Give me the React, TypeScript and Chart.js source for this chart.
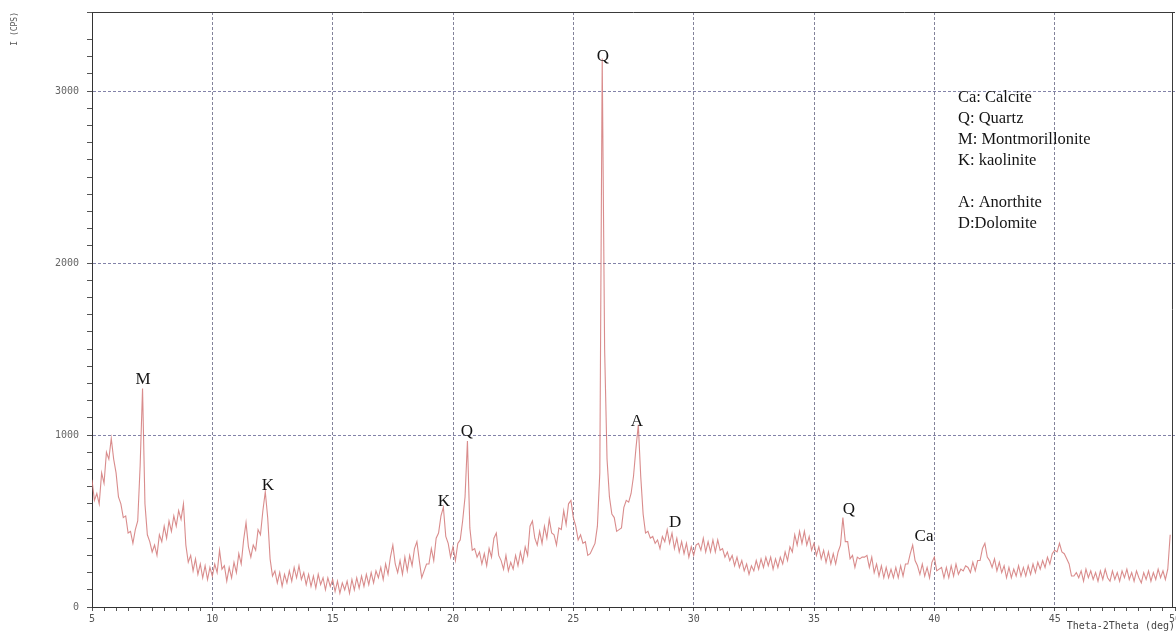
import React, { useEffect, useRef } from 'react';
import { Chart, registerables } from 'chart.js';

Chart.register(...registerables);

// Scan settings (2theta, degrees)
const SCAN_START = 5;
const SCAN_STEP = 0.1;

// Intensity (CPS), one value per 0.1 deg
const I_05_10 = [
  740, 620, 660, 600, 780, 720, 900, 860, 980, 860,
  780, 640, 600, 520, 530, 430, 440, 370, 450, 500,
  820, 1270, 600, 420, 380, 320, 360, 300, 420, 380,
  470, 400, 500, 440, 530, 470, 560, 510, 600, 360,
  260, 300, 210, 280, 190, 250, 170, 240, 160, 230,
];
const I_10_15 = [
  180, 250, 200, 330, 220, 240, 150, 230, 170, 260,
  200, 310, 250, 390, 490, 350, 290, 360, 330, 450,
  420, 560, 670, 520, 280, 180, 210, 140, 200, 120,
  190, 140, 210, 150, 230, 170, 240, 160, 200, 130,
  190, 120, 180, 110, 190, 130, 170, 100, 170, 120,
];
const I_15_20 = [
  160, 90, 150, 80, 140, 100, 150, 80, 160, 100,
  170, 110, 180, 120, 190, 130, 200, 140, 210, 170,
  230, 160, 250, 190, 290, 360, 250, 200, 270, 190,
  290, 210, 300, 240, 340, 380, 270, 170, 210, 250,
  250, 340, 270, 400, 430, 530, 580, 410, 370, 290,
];
const I_20_25 = [
  350, 270, 370, 390, 500, 640, 965, 460, 330, 340,
  290, 320, 250, 310, 240, 340, 290, 400, 430, 300,
  270, 220, 300, 210, 260, 220, 300, 240, 320, 260,
  350, 300, 470, 500, 400, 360, 440, 370, 470, 400,
  510, 430, 420, 360, 460, 450, 560, 480, 600, 620,
];
const I_25_30 = [
  520, 470, 390, 420, 370, 380, 300, 310, 340, 370,
  470, 780, 3190, 1500, 860, 640, 540, 520, 440, 450,
  460, 580, 620, 610, 660, 760, 920, 1060, 760, 540,
  430, 440, 400, 410, 370, 390, 340, 410, 380, 450,
  370, 430, 340, 400, 320, 380, 310, 370, 290, 350,
];
const I_30_35 = [
  300, 360, 370, 330, 400, 320, 380, 320, 390, 320,
  390, 330, 340, 290, 320, 270, 300, 240, 290, 230,
  270, 210, 250, 190, 240, 210, 270, 220, 280, 230,
  290, 240, 290, 220, 280, 230, 290, 250, 320, 270,
  350, 320, 420, 360, 440, 370, 440, 360, 410, 330,
];
const I_35_40 = [
  370, 300, 350, 280, 330, 260, 320, 250, 310, 250,
  320, 360, 520, 380, 380, 280, 300, 230, 290, 280,
  290, 290, 300, 230, 290, 200, 250, 180, 240, 170,
  230, 170, 220, 170, 230, 170, 240, 180, 250, 250,
  310, 360, 270, 240, 190, 250, 180, 230, 170, 260,
];
const I_40_45 = [
  290, 210, 220, 230, 170, 230, 170, 240, 180, 250,
  190, 220, 210, 240, 230, 200, 260, 210, 270, 270,
  340, 370, 290, 270, 230, 280, 210, 260, 200, 240,
  170, 230, 170, 220, 180, 240, 180, 230, 180, 240,
  190, 250, 200, 260, 220, 270, 230, 290, 250, 310,
];
const I_45_50 = [
  330, 320, 370, 320, 310, 280, 250, 180, 180, 200,
  170, 210, 150, 220, 170, 210, 160, 200, 150, 210,
  160, 220, 170, 150, 210, 160, 200, 150, 210, 170,
  220, 160, 200, 150, 210, 170, 140, 200, 160, 210,
  150, 200, 160, 220, 170, 210, 160, 220, 420,
];

// Axis ticks
const X_MIN = 5;
const X_MAX = 50;
const X_LABELS = [5, 10, 15, 20, 25, 30, 35, 40, 45, 50];
const Y_MIN = 0;
const Y_MAX = 3460;
const Y_LABELS = [0, 1000, 2000, 3000];

// Phase labels above peaks
const PEAK_LABELS = ['M', 'K', 'K', 'Q', 'Q', 'A', 'D', 'Q', 'Ca'];
const PEAK_2THETA = [7.12, 12.31, 19.62, 20.58, 26.23, 27.64, 29.23, 36.45, 39.57];
const PEAK_LABEL_I = [1320, 709, 616, 1023, 3203, 1081, 494, 564, 407];

const LEGEND_LINES = [
  'Ca: Calcite',
  'Q: Quartz',
  'M: Montmorillonite',
  'K: kaolinite',
  '',
  'A: Anorthite',
  'D:Dolomite',
];

const MONO = '"DejaVu Sans Mono", "Liberation Mono", monospace';
const SERIF = '"Liberation Serif", "DejaVu Serif", serif';

const isMult = (v: number, m: number) => {
  const r = Math.round(v);
  return Math.abs(v - r) < 1e-6 && r % m === 0;
};

const overlayPlugin = {
  id: 'xrdOverlay',
  afterDatasetsDraw(chart: any) {
    const { ctx, chartArea, scales } = chart;
    const xs = scales.x;
    const ys = scales.y;
    ctx.save();
    // frame top & right
    ctx.strokeStyle = '#3a3a3a';
    ctx.lineWidth = 1;
    ctx.beginPath();
    ctx.moveTo(chartArea.left, chartArea.top + 0.5);
    ctx.lineTo(chartArea.right, chartArea.top + 0.5);
    ctx.moveTo(chartArea.right - 2.5, chartArea.top);
    ctx.lineTo(chartArea.right - 2.5, chartArea.bottom);
    ctx.stroke();

    // peak labels
    ctx.fillStyle = '#151515';
    ctx.font = `17px ${SERIF}`;
    ctx.textAlign = 'center';
    ctx.textBaseline = 'middle';
    PEAK_LABELS.forEach((t, i) => {
      ctx.fillText(t, xs.getPixelForValue(PEAK_2THETA[i]), ys.getPixelForValue(PEAK_LABEL_I[i]));
    });

    // legend text
    ctx.font = `16.5px ${SERIF}`;
    ctx.textAlign = 'left';
    LEGEND_LINES.forEach((t, i) => {
      if (t) ctx.fillText(t, chartArea.right - 217, chartArea.top + 86 + i * 21);
    });
    ctx.restore();
  },
};

export default function App() {
  const canvasRef = useRef<HTMLCanvasElement | null>(null);

  useEffect(() => {
    document.body.style.margin = '0';
    const intensity = [
      ...I_05_10, ...I_10_15, ...I_15_20, ...I_20_25, ...I_25_30,
      ...I_30_35, ...I_35_40, ...I_40_45, ...I_45_50,
    ];
    const points = intensity.map((v, i) => ({
      x: Math.round((SCAN_START + i * SCAN_STEP) * 100) / 100,
      y: v,
    }));

    const chart = new Chart(canvasRef.current as HTMLCanvasElement, {
      type: 'line',
      data: {
        datasets: [
          {
            data: points,
            borderColor: 'rgba(210,120,120,0.85)',
            borderWidth: 1.1,
            pointRadius: 0,
            tension: 0,
            fill: false,
          },
        ],
      },
      options: {
        animation: false,
        responsive: true,
        maintainAspectRatio: false,
        layout: { padding: { top: 12, right: 1, left: 0, bottom: 0 } },
        plugins: {
          legend: { display: false },
          tooltip: { enabled: false },
          title: { display: false },
        },
        scales: {
          x: {
            type: 'linear',
            min: X_MIN,
            max: X_MAX,
            afterFit: (s: any) => {
              s.height = 25;
              s.paddingLeft = 0;
              s.paddingRight = 0;
            },
            ticks: {
              stepSize: 0.5,
              autoSkip: false,
              maxRotation: 0,
              minRotation: 0,
              padding: 2,
              color: '#555',
              font: { family: MONO, size: 10 },
              callback: (v: any) => {
                const n = Number(v);
                return X_LABELS.some((l) => Math.abs(l - n) < 1e-6) ? String(Math.round(n)) : '';
              },
            },
            grid: {
              color: (c: any) => {
                const v = c.tick ? c.tick.value : 0;
                return isMult(v, 5) && v > X_MIN && v < X_MAX ? 'rgba(90,90,120,0.75)' : 'rgba(0,0,0,0)';
              },
              tickColor: '#555',
              tickLength: 4,
              lineWidth: 1,
            },
            border: { display: true, color: '#333', width: 1, dash: [3, 2] },
            title: {
              display: true,
              text: 'Theta-2Theta (deg)',
              align: 'end',
              color: '#444',
              font: { family: MONO, size: 10 },
              padding: { top: 0, bottom: 0 },
            },
          },
          y: {
            type: 'linear',
            min: Y_MIN,
            max: Y_MAX,
            afterFit: (s: any) => {
              s.width = 92;
              s.paddingTop = 0;
              s.paddingBottom = 0;
            },
            ticks: {
              stepSize: 100,
              autoSkip: false,
              padding: 8,
              color: '#666',
              font: { family: MONO, size: 10 },
              callback: (v: any) => {
                const n = Number(v);
                return Y_LABELS.some((l) => Math.abs(l - n) < 1e-6) ? String(Math.round(n)) : '';
              },
            },
            grid: {
              color: (c: any) => {
                const v = c.tick ? c.tick.value : 0;
                return isMult(v, 1000) && v > 0 ? 'rgba(90,90,140,0.75)' : 'rgba(0,0,0,0)';
              },
              tickColor: '#555',
              tickLength: 5,
              lineWidth: 1,
            },
            border: { display: true, color: '#333', width: 1, dash: [3, 2] },
            title: {
              display: true,
              text: 'I (CPS)',
              align: 'end',
              color: '#555',
              font: { family: MONO, size: 8 },
              padding: { top: 10, bottom: 0 },
            },
          },
        },
      },
      plugins: [overlayPlugin],
    });
    return () => chart.destroy();
  }, []);

  return (
    <div style={{ width: 1176, height: 632, position: 'relative', background: '#fff' }}>
      <canvas ref={canvasRef} />
    </div>
  );
}
